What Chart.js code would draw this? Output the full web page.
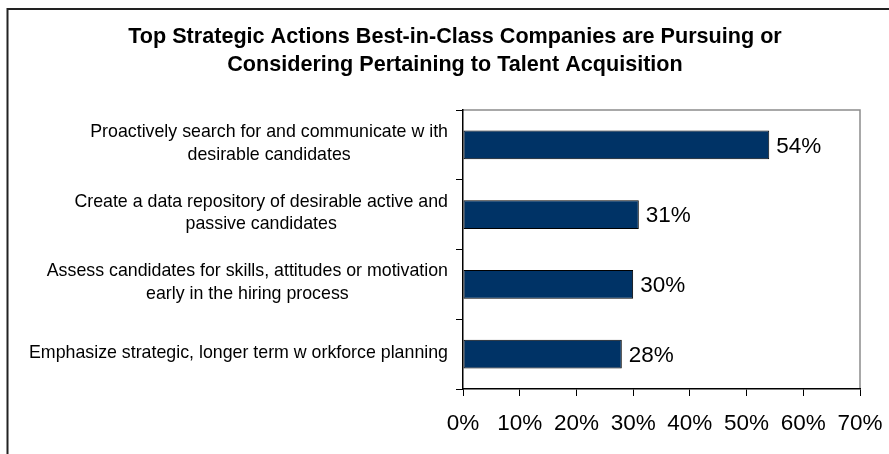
<!DOCTYPE html>
<html>
<head>
<meta charset="utf-8">
<script src="https://cdn.jsdelivr.net/npm/chart.js@4.4.1/dist/chart.umd.min.js"></script>
<style>
    html, body { margin: 0; padding: 0; background: #fff; }
    #chart { display: block; }
</style>
</head>
<body>
<canvas id="chart" width="889" height="454" style="width:889px;height:454px"></canvas>
<script>
var titleLines = [
    "Top Strategic Actions Best-in-Class Companies are Pursuing or",
    "Considering Pertaining to Talent Acquisition"
];
var categories = [
    ["Proactively search for and communicate w ith", "desirable candidates"],
    ["Create a data repository of desirable active and", "passive candidates"],
    ["Assess candidates for skills, attitudes or motivation", "early in the hiring process"],
    ["Emphasize strategic, longer term w orkforce planning"]
];
var values = [54, 31, 30, 28];
var xMax = 70;
var xStep = 10;

var FONT = "'Liberation Sans', Arial, sans-serif";

// title, category labels, value labels and frame
var decorPlugin = {
    id: 'decor',
    beforeDraw: function (chart) {
        var ctx = chart.ctx, a = chart.chartArea;
        ctx.save();
        ctx.fillStyle = '#fff';
        ctx.fillRect(0, 0, chart.width, chart.height);

        // outer frame (top + left)
        ctx.strokeStyle = '#222';
        ctx.lineWidth = 2;
        ctx.beginPath();
        ctx.moveTo(chart.width, 9);
        ctx.lineTo(7.5, 9);
        ctx.lineTo(7.5, chart.height);
        ctx.stroke();

        // plot box top + right in grey
        ctx.strokeStyle = '#8c8c8c';
        ctx.lineWidth = 1.5;
        ctx.beginPath();
        ctx.moveTo(a.left, a.top);
        ctx.lineTo(a.right, a.top);
        ctx.lineTo(a.right, a.bottom);
        ctx.stroke();

        // title
        ctx.fillStyle = '#000';
        ctx.font = 'bold 21.6px ' + FONT;
        ctx.textAlign = 'center';
        ctx.textBaseline = 'middle';
        titleLines.forEach(function (t, i) {
            ctx.fillText(t, 455, 37 + i * 28.5);
        });
        ctx.restore();
    },
    afterDraw: function (chart) {
        var ctx = chart.ctx;
        var yScale = chart.scales.y;
        var meta = chart.getDatasetMeta(0);
        ctx.save();
        ctx.fillStyle = '#000';
        ctx.textBaseline = 'middle';

        // category labels: block right-aligned, lines centred in block
        ctx.font = '17.8px ' + FONT;
        ctx.textAlign = 'center';
        var lh = 22.7;
        var rightEdge = yScale.right - 15;
        categories.forEach(function (lines, i) {
            var w = 0;
            lines.forEach(function (l) { w = Math.max(w, ctx.measureText(l).width); });
            var cx = rightEdge - w / 2;
            var cy = yScale.getPixelForValue(i) - 1.5;
            var y0 = cy - (lines.length - 1) * lh / 2;
            lines.forEach(function (l, j) {
                ctx.fillText(l, cx, y0 + j * lh);
            });
        });

        // value labels
        ctx.font = '22.5px ' + FONT;
        ctx.textAlign = 'left';
        meta.data.forEach(function (bar, i) {
            ctx.fillText(values[i] + '%', bar.x + 7, bar.y + 1.5);
        });
        ctx.restore();
    }
};

new Chart('chart', {
    type: 'bar',
    data: {
        labels: categories,
        datasets: [{
            data: values,
            backgroundColor: '#003366',
            borderColor: '#000',
            borderWidth: 1,
            borderSkipped: false,
            barPercentage: 0.41,
            categoryPercentage: 1
        }]
    },
    options: {
        indexAxis: 'y',
        responsive: false,
        animation: false,
        devicePixelRatio: 1,
        layout: { padding: { top: 110, right: 29, bottom: 0, left: 0 } },
        plugins: {
            legend: { display: false },
            title: { display: false },
            tooltip: { enabled: false }
        },
        scales: {
            x: {
                min: 0,
                max: xMax,
                afterFit: function (s) {
                    s.height = 65;
                    s.paddingLeft = 0;
                    s.paddingRight = 0;
                },
                ticks: {
                    stepSize: xStep,
                    padding: 14,
                    color: '#000',
                    font: { family: FONT, size: 22.5 },
                    callback: function (v) { return v + '%'; }
                },
                grid: {
                    drawOnChartArea: false,
                    drawTicks: true,
                    tickLength: 7,
                    color: '#000'
                },
                border: { display: true, color: '#000', width: 1.5 }
            },
            y: {
                afterFit: function (s) { s.width = 463; },
                ticks: { display: false },
                grid: {
                    offset: true,
                    drawOnChartArea: false,
                    drawTicks: true,
                    tickLength: 7,
                    color: '#000'
                },
                border: { display: true, color: '#000', width: 1.5 }
            }
        }
    },
    plugins: [decorPlugin]
});
</script>
</body>
</html>
